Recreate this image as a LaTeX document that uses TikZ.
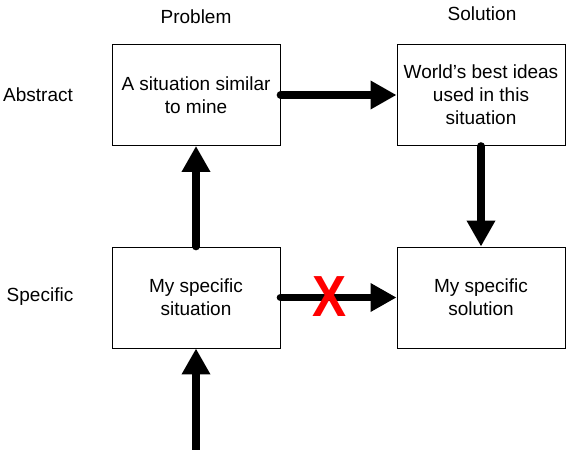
\documentclass[tikz,border=0pt]{standalone}
\usepackage{fontspec}
\setmainfont{Liberation Sans}
\usetikzlibrary{arrows.meta}
\begin{document}
\begin{tikzpicture}[x=1pt,y=-1pt,
  box/.style={draw=black,line width=0.9pt,minimum width=168pt,minimum height=101pt,align=center,inner sep=0pt,
    font=\fontsize{19}{23}\selectfont},
  lbl/.style={font=\fontsize{19}{23}\selectfont,inner sep=0pt},
  bigarrow/.style={line width=7.5pt,line cap=round,-{Triangle[width=27pt,length=26pt]}}]
\useasboundingbox (0,0) rectangle (566,450);
\node[lbl] (prob) at (196,17) {Problem};
\node[lbl] (sol) at (482,14) {Solution};
\node[lbl] (abs) at (38,95) {Abstract};
\node[lbl] (spec) at (40,297) {Specific};
\node[box] (tl) at (196,95) {A situation similar\\to mine};
\node[box] (tr) at (481,95) {World’s best ideas\\used in this\\situation};
\node[box] (bl) at (196,297.5) {My specific\\situation};
\node[box] (br) at (481,297.5) {My specific\\solution};
\coordinate (bot) at (196,456);
\draw[bigarrow] (tl.east) -- (tr.west);
\draw[bigarrow] (tr.south) -- (br.north);
\draw[bigarrow] (bl.north) -- (tl.south);
\draw[bigarrow] (bl.east) -- (br.west);
\draw[bigarrow] (bot) -- (bl.south);
\node[text=red,inner sep=0pt,font=\fontsize{58}{58}\bfseries\selectfont,xscale=0.88] (x) at (330,297) {X};
\end{tikzpicture}
\end{document}
